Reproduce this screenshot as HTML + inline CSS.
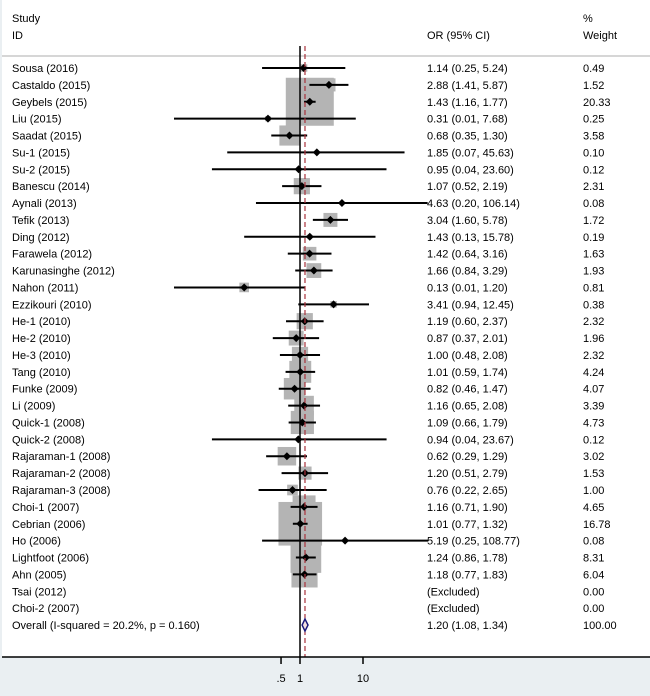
<!DOCTYPE html>
<html><head><meta charset="utf-8"><style>
body{margin:0;background:#eaeff2;}
svg{display:block;font-family:"Liberation Sans",Arial,sans-serif;}
</style></head><body>
<svg id="c" width="650" height="696">
<rect x="2" y="0" width="648" height="657" fill="#fff"/>
<line x1="2" y1="56" x2="650" y2="56" stroke="#c8c8c8" stroke-width="1.5"/>
<text x="12" y="22" font-size="11">Study</text>
<text x="12" y="39" font-size="11">ID</text>
<text x="427" y="39" font-size="11">OR (95% CI)</text>
<text x="583" y="22" font-size="11">%</text>
<text x="583" y="39" font-size="11">Weight</text>
<g id="boxes"></g><g id="marks"></g>
</svg>
<script>
const studies=["Sousa (2016)","Castaldo (2015)","Geybels (2015)","Liu (2015)","Saadat (2015)","Su-1 (2015)","Su-2 (2015)","Banescu (2014)","Aynali (2013)","Tefik (2013)","Ding (2012)","Farawela (2012)","Karunasinghe (2012)","Nahon (2011)","Ezzikouri (2010)","He-1 (2010)","He-2 (2010)","He-3 (2010)","Tang (2010)","Funke (2009)","Li (2009)","Quick-1 (2008)","Quick-2 (2008)","Rajaraman-1 (2008)","Rajaraman-2 (2008)","Rajaraman-3 (2008)","Choi-1 (2007)","Cebrian (2006)","Ho (2006)","Lightfoot (2006)","Ahn (2005)","Tsai (2012)","Choi-2 (2007)"];
const orVals=[1.14,2.88,1.43,0.31,0.68,1.85,0.95,1.07,4.63,3.04,1.43,1.42,1.66,0.13,3.41,1.19,0.87,1.00,1.01,0.82,1.16,1.09,0.94,0.62,1.20,0.76,1.16,1.01,5.19,1.24,1.18,null,null];
const lowVals=[0.25,1.41,1.16,0.01,0.35,0.07,0.04,0.52,0.20,1.60,0.13,0.64,0.84,0.01,0.94,0.60,0.37,0.48,0.59,0.46,0.65,0.66,0.04,0.29,0.51,0.22,0.71,0.77,0.25,0.86,0.77,null,null];
const highVals=[5.24,5.87,1.77,7.68,1.30,45.63,23.60,2.19,106.14,5.78,15.78,3.16,3.29,1.20,12.45,2.37,2.01,2.08,1.74,1.47,2.08,1.79,23.67,1.29,2.79,2.65,1.90,1.32,108.77,1.78,1.83,null,null];
const weights=[0.49,1.52,20.33,0.25,3.58,0.10,0.12,2.31,0.08,1.72,0.19,1.63,1.93,0.81,0.38,2.32,1.96,2.32,4.24,4.07,3.39,4.73,0.12,3.02,1.53,1.00,4.65,16.78,0.08,8.31,6.04,0.00,0.00];
const overall=[1.20,1.08,1.34];
const overallLabel="Overall  (I-squared = 20.2%, p = 0.160)";
const ticks=[0.5,1,10];
const tickLabels=[".5","1","10"];
const NS="http://www.w3.org/2000/svg",svg=document.getElementById('c'),B=document.getElementById('boxes'),M=document.getElementById('marks');
const X=v=>300+63*Math.log10(v), Y=i=>68+i*16.88;
function mk(p,t,a,txt){const e=document.createElementNS(NS,t);for(const k in a)e.setAttribute(k,a[k]);if(txt!=null)e.textContent=txt;p.appendChild(e);return e;}
const f=v=>v.toFixed(2);
studies.forEach((s,i)=>{const y=Y(i);
 let e=mk(svg,'text',{x:12,y:y+4,'font-size':11},s);
 
 
 e=mk(svg,'text',{x:427,y:y+4,'font-size':11},orVals[i]==null?"(Excluded)":`${f(orVals[i])} (${f(lowVals[i])}, ${f(highVals[i])})`);
 
 
 e=mk(svg,'text',{x:583,y:y+4,'font-size':11},f(weights[i]));
 
 
 if(orVals[i]==null)return;
 const sz=48*Math.sqrt(weights[i]/20.33),cx=X(orVals[i]);
 e=mk(B,'rect',{x:cx-sz/2,y:y-sz/2,width:sz,height:sz,fill:'#b4b4b4'});
 
 
 e=mk(M,'line',{x1:X(lowVals[i]),x2:X(highVals[i]),y1:y,y2:y,stroke:'#000','stroke-width':2});
 
 
 e=mk(M,'path',{d:`M${cx-4},${y}L${cx},${y-4}L${cx+4},${y}L${cx},${y+4}Z`,fill:'#000'});
 
 
});
let e=mk(svg,'line',{x1:300,x2:300,y1:46,y2:657,stroke:'#000','stroke-width':1.5});


e=mk(svg,'line',{x1:X(overall[0]),x2:X(overall[0]),y1:46,y2:657,stroke:'#a8323c','stroke-width':1.2,'stroke-dasharray':'5,3'});


const oy=Y(33);
e=mk(svg,'text',{x:12,y:oy+4,'font-size':11,'xml:space':'preserve'},overallLabel);


e=mk(svg,'text',{x:427,y:oy+4,'font-size':11},`${f(overall[0])} (${f(overall[1])}, ${f(overall[2])})`);


e=mk(svg,'text',{x:583,y:oy+4,'font-size':11},"100.00");


e=mk(svg,'path',{d:`M${X(overall[1])},${oy}L${X(overall[0])},${oy-6}L${X(overall[2])},${oy}L${X(overall[0])},${oy+6}Z`,fill:'#f4e0e0',stroke:'#1a1a7a','stroke-width':1.5});


e=mk(svg,'line',{x1:2,x2:650,y1:657,y2:657,stroke:'#000','stroke-width':1.5});


ticks.forEach((t,i)=>{
 let e=mk(svg,'line',{x1:X(t),x2:X(t),y1:657,y2:664,stroke:'#000','stroke-width':1.5});
 
 
 e=mk(svg,'text',{x:X(t),y:682,'font-size':11,'text-anchor':'middle'},tickLabels[i]);
 
 
});
</script>
</body></html>
